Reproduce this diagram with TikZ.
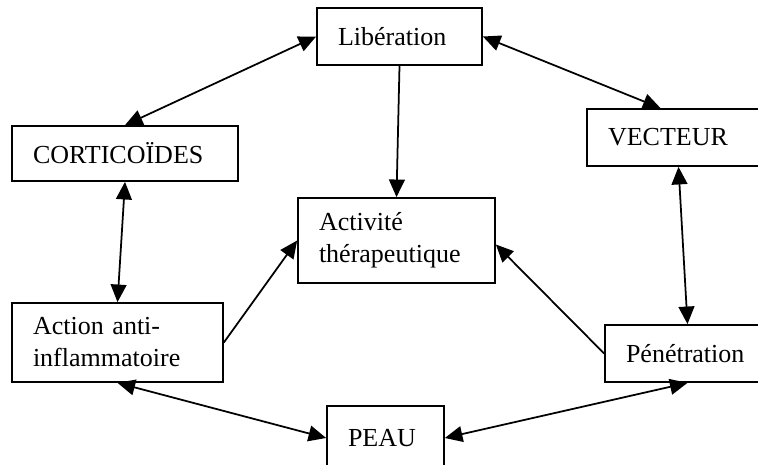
\documentclass[tikz,border=0pt]{standalone}
\usepackage{fontspec}
\setmainfont{Liberation Serif}
\usetikzlibrary{arrows.meta,calc}
\begin{document}
\begin{tikzpicture}[x=0.02cm,y=-0.02cm,
  boite/.style={draw,line width=1pt,inner xsep=0.42cm,align=left,
    font=\fontsize{14.8}{18.2}\selectfont},
  fleche/.style={line width=1pt,-{Triangle[length=10pt,width=9pt]}},
  fleches/.style={line width=1pt,{Triangle[length=10pt,width=9pt]}-{Triangle[length=10pt,width=9pt]}}]
\useasboundingbox (0,0) rectangle (758,465);
\clip (0,0) rectangle (758,465);
\node[boite,text width=2.46cm,minimum height=1.14cm] (lib) at (399.5,36.5) {Libération};
\node[boite,text width=3.68cm,minimum height=1.1cm] (cort) at (125,153.5) {CORTICOÏDES};
\node[boite,text width=2.82cm,minimum height=1.14cm] (vect) at (678.5,137.5) {VECTEUR};
\node[boite,text width=3.1cm,minimum height=1.7cm] (act) at (396.5,240.5) {Activité\\thérapeutique};
\node[boite,text width=3.38cm,minimum height=1.58cm] (action) at (117.5,342.5) {Action anti-\\inflammatoire};
\node[boite,text width=2.46cm,minimum height=1.14cm] (pen) at (687.5,353.5) {Pénétration};
\node[boite,text width=1.5cm,minimum height=1.28cm] (peau) at (385.5,438) {PEAU};
% liaisons
\draw[fleches] (lib.west) -- (cort.north);
\draw[fleches] (lib.east) -- ($(vect.north)+(-18,0)$);
\draw[fleche] (lib.south) -- (act.north);
\draw[fleches] (cort.south) -- (action.north);
\draw[fleche] (action.east) -- (act.west);
\draw[fleche] (pen.west) -- ($(act.east)+(0,4)$);
\draw[fleches] (vect.south) -- (pen.north);
\draw[fleches] (action.south) -- (peau.west);
\draw[fleches] (peau.east) -- (pen.south);
\end{tikzpicture}
\end{document}
